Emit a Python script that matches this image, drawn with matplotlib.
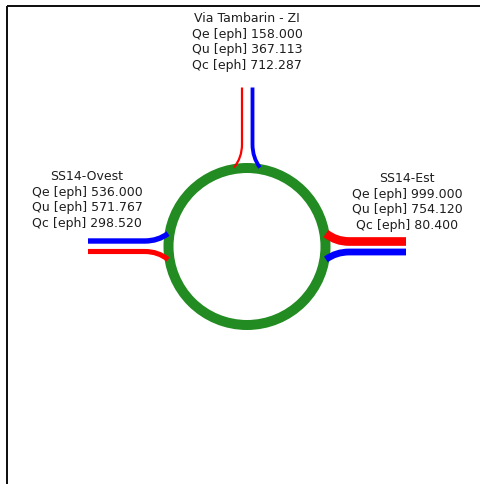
import numpy as np
import matplotlib
matplotlib.use('Agg')
import matplotlib.pyplot as plt
from matplotlib.path import Path
from matplotlib.patches import PathPatch, Circle

# roundabout arms and flows (eph)
arm_names = ['Via Tambarin - ZI', 'SS14-Ovest', 'SS14-Est']
qe = [158.000, 536.000, 999.000]
qu = [367.113, 571.767, 754.120]
qc = [712.287, 298.520, 80.400]

# layout (pixels, y down)
W, H = 480, 484
cx, cy = 247, 246.5
ring_r = 78.5
px = 72.0 / 100  # points per pixel at dpi 100

arm_dirs = [(0, -1), (-1, 0), (1, 0)]
label_pos = [(247, 19), (87, 177), (407, 179)]


def lane_path(u, n, off, ang):
    u = np.array(u, float)
    n = np.array(n, float)
    start = np.array([cx, cy]) + 159 * u + off * n
    bend = np.array([cx, cy]) + 102 * u + off * n
    ctrl = np.array([cx, cy]) + 89 * u + off * n
    a = np.radians(ang)
    end = np.array([cx, cy]) + 80 * (np.cos(a) * u + np.sin(a) * n)
    verts = [start, bend, ctrl, end]
    codes = [Path.MOVETO, Path.LINETO, Path.CURVE3, Path.CURVE3]
    return Path(verts, codes)


def flow_width(q):
    return (1 + q / 130) * px


fig = plt.figure(figsize=(W / 100, H / 100), dpi=100)
ax = fig.add_axes([0, 0, 1, 1])
ax.set_xlim(0, W)
ax.set_ylim(H, 0)
ax.axis('off')

# frame
ax.plot([7, W], [6, 6], color='#111111', lw=2 * px, solid_capstyle='butt')
ax.plot([7, 7], [6, H], color='#111111', lw=2 * px, solid_capstyle='butt')

# ring
ax.add_patch(Circle((cx, cy), ring_r, fill=False, ec='#228b22', lw=10 * px))

for i, u in enumerate(arm_dirs):
    n = (u[1], -u[0])
    # entering flow (red) and exiting flow (blue)
    ent = lane_path(u, n, 5, 9.3)
    ext = lane_path(u, n, -5.5, -9.3)
    ax.add_patch(PathPatch(ent, fill=False, ec='red', lw=flow_width(qe[i]), capstyle='butt'))
    ax.add_patch(PathPatch(ext, fill=False, ec='blue', lw=flow_width(qu[i]), capstyle='butt'))

    lx, ly = label_pos[i]
    lines = [arm_names[i],
             f'Qe [eph] {qe[i]:.3f}',
             f'Qu [eph] {qu[i]:.3f}',
             f'Qc [eph] {qc[i]:.3f}']
    for k, t in enumerate(lines):
        ax.text(lx, ly + k * 15.4, t, ha='center', va='center',
                fontsize=9, color='#1e1e1e', family='DejaVu Sans')

fig.savefig('out.png', dpi=100)
